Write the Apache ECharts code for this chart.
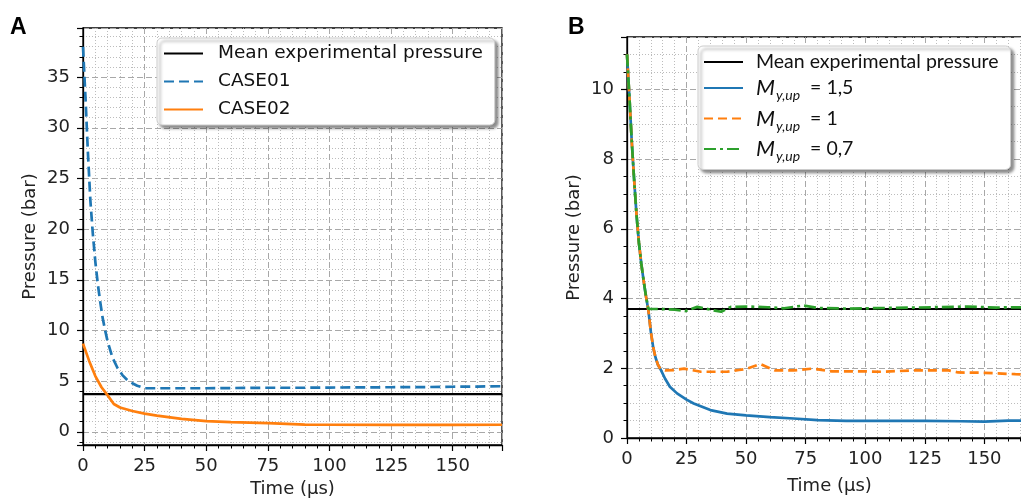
<!DOCTYPE html>
<html><head><meta charset="utf-8">
<script src="https://cdn.jsdelivr.net/npm/echarts@6/dist/echarts.min.js"></script>
<style>html,body{margin:0;padding:0;background:#fff}#c{width:1021px;height:502px}</style>
</head><body><div id="c"></div>
<script>
// ---------- DATA ----------
// Panel A
const meanA_t = [0, 170];
const meanA_p = [3.72, 3.72];
const case01_t = [0,1,2,3,4,5,6,7,8,9,10,12,14,16,18,20,22,25,30,40,50,60,75,90,100,110,125,140,150,160,170];
const case01_p = [38,33,27.5,22.8,19.5,16.8,14.6,12.8,11.2,10,8.9,7.3,6.3,5.6,5.1,4.8,4.55,4.3,4.3,4.3,4.3,4.32,4.35,4.35,4.37,4.38,4.4,4.42,4.45,4.47,4.5];
const case02_t = [0,2.5,5,7.5,10,12.5,15,20,25,30,40,50,60,75,90,100,125,150,170];
const case02_p = [8.7,7.0,5.5,4.4,3.6,2.75,2.4,2.05,1.8,1.6,1.27,1.05,0.95,0.85,0.72,0.7,0.68,0.68,0.7];
// Panel B
const meanB_t = [0, 170];
const meanB_p = [3.7, 3.7];
const m15_t = [0,1,2,3,4,5,6,7,8,9,10,11,12,13,14,16,18,21,25,28,35,42,50,60,70,80,92,110,125,140,150,160,170];
const m15_p = [11.0,9.8,8.5,7.4,6.4,5.6,5.0,4.5,4.05,3.65,3.05,2.6,2.3,2.1,1.98,1.7,1.47,1.28,1.1,0.99,0.8,0.7,0.65,0.6,0.56,0.51,0.49,0.49,0.49,0.48,0.47,0.5,0.5];
const m1_t = [0,1,2,3,4,5,6,7,8,9,10,11,12,13,14,16,20,24,27,31,42,47,50,56,60,62,70,78,86,100,107,121,135,139,150,163,170];
const m1_p = [11.0,9.8,8.5,7.4,6.4,5.6,5.0,4.5,4.05,3.65,3.05,2.6,2.3,2.1,1.98,1.94,1.95,1.99,1.95,1.9,1.9,1.95,1.98,2.12,2.0,1.94,1.94,1.99,1.91,1.91,1.9,1.94,1.94,1.88,1.87,1.83,1.82];
const m07_t = [0,1,2,3,4,5,6,7,8,9,14,20,24.5,29.5,35,39.5,43.6,50,59,66,74,80,93,110,121,143,155,163,170];
const m07_p = [11.0,9.8,8.5,7.4,6.4,5.6,5.0,4.5,4.05,3.7,3.7,3.68,3.64,3.76,3.68,3.62,3.76,3.77,3.75,3.72,3.8,3.73,3.71,3.73,3.74,3.77,3.74,3.75,3.74];
// Tick labels
const xTicksA = [0,25,50,75,100,125,150];
const yTicksA = [0,5,10,15,20,25,30,35];
const xTicksB = [0,25,50,75,100,125,150];
const yTicksB = [0,2,4,6,8,10];
// Legend labels
const namesA = ['Mean experimental pressure','CASE01','CASE02'];
const namesB = ['Mean experimental pressure ','My15','My1','My07'];
const labelsB = {
  'Mean experimental pressure ': '{t|Mean experimental pressure}',
  'My15': '{i|M}{s|y,up}{t|  = 1,5}',
  'My1': '{i|M}{s|y,up}{t|  = 1}',
  'My07': '{i|M}{s|y,up}{t|  = 0,7}'
};

// ---------- CHART ----------
const F = 'DejaVu Sans';
const zip = (t, p) => t.map((x, i) => [x, p[i]]);
const near = (v, arr) => arr.some(a => Math.abs(a - v) < 1e-6);

function xAx(gi, max, ticks, gap) {
  return {
    type: 'value', gridIndex: gi, min: 0, max: max, interval: 25,
    name: 'Time (µs)', nameLocation: 'middle', nameGap: gap,
    nameTextStyle: {fontSize: 18, color: '#222', fontFamily: F},
    axisLine: {show: true, onZero: false, lineStyle: {color: '#000', width: 1.3}},
    axisTick: {show: true, inside: false, length: 6, lineStyle: {color: '#000', width: 1.2}},
    minorTick: {show: true, splitNumber: 5, length: 3.5, lineStyle: {color: '#000', width: 1}},
    axisLabel: {fontSize: 18, color: '#222', margin: 12, fontFamily: F,
      formatter: v => near(v, ticks) ? String(v) : ''},
    splitLine: {show: true, lineStyle: {color: '#a8a8a8', type: [6, 3], width: 1}},
    minorSplitLine: {show: true, lineStyle: {color: '#bcbcbc', type: [1, 2], width: 1}}
  };
}
function yAx(gi, min, max, split, ticks) {
  return {
    type: 'value', gridIndex: gi, min: min, max: max, splitNumber: split,
    name: 'Pressure (bar)', nameLocation: 'middle', nameGap: 44,
    nameTextStyle: {fontSize: 18, color: '#222', fontFamily: F},
    axisLine: {show: true, onZero: false, lineStyle: {color: '#000', width: 1.3}},
    axisTick: {show: true, inside: false, length: 6, lineStyle: {color: '#000', width: 1.2}},
    minorTick: {show: true, splitNumber: gi === 0 ? 5 : 4, length: 3.5, lineStyle: {color: '#000', width: 1}},
    axisLabel: {fontSize: 18, color: '#222', margin: 13, fontFamily: F,
      formatter: v => near(v, ticks) ? String(v) : ''},
    splitLine: {show: true, lineStyle: {color: '#a8a8a8', type: [6, 3], width: 1}},
    minorSplitLine: {show: true, lineStyle: {color: '#bcbcbc', type: [1, 2], width: 1}}
  };
}
function ln(name, gi, t, p, color, type, width, z) {
  return {type: 'line', name: name, xAxisIndex: gi, yAxisIndex: gi, data: zip(t, p),
    symbol: 'none', smooth: false, z: z,
    lineStyle: {color: color, width: width, type: type}, itemStyle: {color: color}};
}

const legendCommon = {
  orient: 'vertical', itemWidth: 39, itemHeight: 14, selectedMode: false,
  itemStyle: {opacity: 0, borderWidth: 0},
  backgroundColor: '#fff', borderColor: '#cccccc', borderWidth: 1, borderRadius: 5,
  shadowColor: 'rgba(0,0,0,0.45)', shadowBlur: 3, shadowOffsetX: 3, shadowOffsetY: 3
};

const chart = echarts.init(document.getElementById('c'), null, {renderer: 'canvas'});
chart.setOption({
  animation: false,
  backgroundColor: '#fff',
  grid: [
    {left: 83, top: 28, width: 419, height: 417, show: true, borderColor: '#000', borderWidth: 1.3,
     containLabel: false, outerBoundsMode: 'none'},
    {left: 627, top: 37, width: 405, height: 401, show: true, borderColor: '#000', borderWidth: 1.3,
     containLabel: false, outerBoundsMode: 'none'}
  ],
  xAxis: [xAx(0, 170, xTicksA, 34), xAx(1, 170, xTicksB, 39)],
  yAxis: [yAx(0, -1.3, 39.85, 8, yTicksA), yAx(1, 0, 11.5, 6, yTicksB)],
  legend: [
    Object.assign({}, legendCommon, {
      left: 157, top: 38, data: namesA, itemGap: 9, padding: [6, 12, 6, 6],
      textStyle: {fontSize: 18.5, color: '#111', fontFamily: F, padding: [0, 0, 0, 10], width: 268}
    }),
    Object.assign({}, legendCommon, {
      left: 698, top: 46, data: namesB, itemGap: 5, padding: [6, 12, 6, 5],
      formatter: n => labelsB[n],
      textStyle: {fontSize: 19, color: '#111', fontFamily: 'Lato', padding: [0, 0, 0, 8], width: 300,
        rich: {
          t: {fontSize: 19.5, color: '#111', fontFamily: 'Lato'},
          i: {fontSize: 22, color: '#111', fontFamily: 'Lato', fontStyle: 'italic'},
          s: {fontSize: 14, color: '#111', fontFamily: 'Lato', fontStyle: 'italic', padding: [15, 0, 0, 1]}
        }}
    })
  ],
  graphic: [
    {type: 'text', left: 10, top: 16, style: {text: 'A', font: 'bold 23px "Liberation Sans"', fill: '#000'}},
    {type: 'text', left: 568, top: 16, style: {text: 'B', font: 'bold 23px "Liberation Sans"', fill: '#000'}}
  ],
  series: [
    ln('Mean experimental pressure', 0, meanA_t, meanA_p, '#000000', 'solid', 2.2, 3),
    ln('CASE01', 0, case01_t, case01_p, '#1f77b4', [10, 5], 2.7, 4),
    ln('CASE02', 0, case02_t, case02_p, '#ff7f0e', 'solid', 2.7, 5),
    ln('Mean experimental pressure ', 1, meanB_t, meanB_p, '#000000', 'solid', 2.2, 3),
    ln('My15', 1, m15_t, m15_p, '#1f77b4', 'solid', 2.7, 4),
    ln('My1', 1, m1_t, m1_p, '#ff7f0e', [9, 5], 2.7, 5),
    ln('My07', 1, m07_t, m07_p, '#2ca02c', [12, 4, 3, 4], 2.7, 6)
  ]
});
</script>
</body></html>
